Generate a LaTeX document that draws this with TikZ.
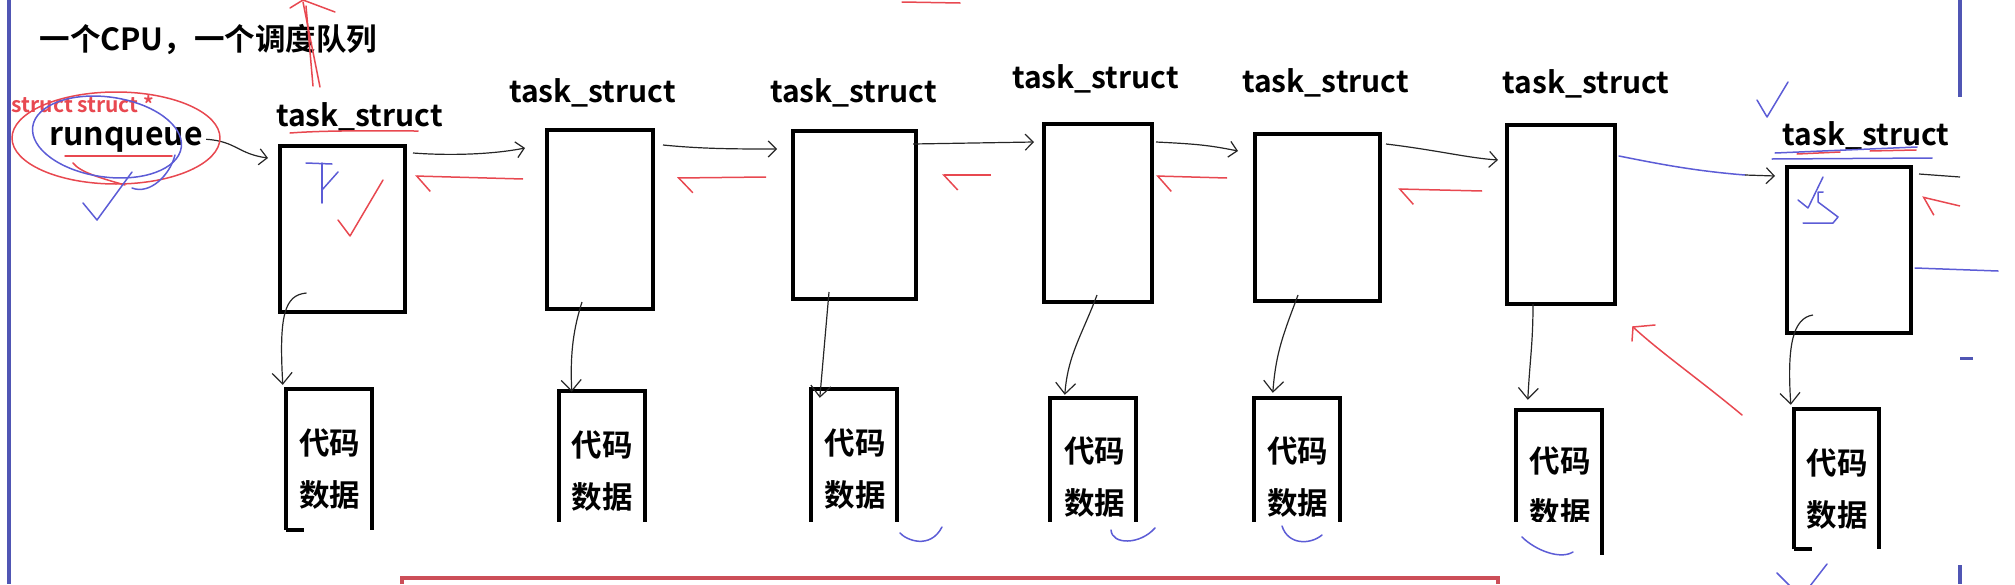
\documentclass[tikz,border=0pt]{standalone}
\usepackage{fontspec}
\setmainfont{Noto Sans CJK SC}[BoldFont={Noto Sans CJK SC Bold}]
\usetikzlibrary{positioning,arrows.meta,calc}

\definecolor{penred}{RGB}{232,72,80}
\definecolor{penblue}{RGB}{92,92,214}
\definecolor{frameblue}{RGB}{80,86,180}
\definecolor{boxred}{RGB}{204,78,88}

\begin{document}
\begin{tikzpicture}[x=1pt, y=-1pt, >={Straight Barb[length=8pt,width=16pt]},
  taskbox/.style={draw, line width=4pt, inner sep=0pt},
  tasklabel/.style={font=\bfseries\fontsize{30}{36}\selectfont, anchor=base},
  codebox/.style={inner sep=0pt},
  codetext/.style={font=\bfseries\fontsize{30.5}{52}\selectfont, align=center},
  link/.style={->, line width=1.2pt, black!85},
  down/.style={-{Straight Barb[length=11pt,width=20pt]}, line width=1.2pt, black!85},
  back/.style={-{Straight Barb[left,length=14pt,width=30pt]}, line width=1.5pt, penred},
  pen/.style={line width=1.5pt, line cap=round, line join=round}]
  \useasboundingbox (0,0) rectangle (2015,584);

  \node[font=\bfseries\fontsize{30.5}{36}\selectfont, anchor=base west] (title) at (36,50) {一个CPU，一个调度队列};
  \node[font=\bfseries\fontsize{21}{24}\selectfont, text=penred, anchor=base] (ptr) at (83,112) {struct struct *};
  \node[font=\bfseries\fontsize{32}{38}\selectfont, anchor=base] (rq) at (126,145) {runqueue};

  \foreach \n/\x/\y/\w/\h in {t1/342.5/229/125/166, t2/600/219.5/106/179, t3/854.5/215/123/168,
      t4/1098/213/108/178, t5/1317.5/217.5/125/167, t6/1561/214.5/108/179, t7/1849/250/124/166}
    \node[taskbox, minimum width=\w pt, minimum height=\h pt] (\n) at (\x,\y) {};
  \foreach \n/\x/\y in {1/359.5/126, 2/592.5/102, 3/853.5/102, 4/1095.5/88, 5/1325.5/92, 6/1586/93, 7/1866/145}
    \node[tasklabel] (l\n) at (\x,\y) {task\_struct};

  \foreach \n/\x/\y/\w/\h in {c1/329/459.5/86/141, c2/602/456.5/86/131, c3/854/455.5/86/133,
      c4/1093/460/86/124, c5/1297/460/86/124, c6/1559/482.5/86/145, c7/1836.5/479/85/140}
    \node[codebox, minimum width=\w pt, minimum height=\h pt] (\n) at (\x,\y) {};
  \foreach \n/\x/\y in {d1/329.5/469, d2/602/471, d3/855/469, d4/1094.5/477.5, d5/1297.5/477.5, d6/1560/487.5, d7/1837/489}
    \node[codetext] (\n) at (\x,\y) {代码\\数据};
  \foreach \n in {c1,c2,c3,c4,c5,c6,c7}
    \draw[line width=4pt] (\n.south west) -- (\n.north west) -- (\n.north east) -- (\n.south east);
  \draw[line width=4pt] (c1.south west) -- ++(18,0);
  \draw[line width=4pt] (c7.south west) -- ++(18,0);
  \fill[white] (385,522) rectangle (1596,576);

  \draw[link] (rq.east) .. controls +(30,2) and +(-30,-4) .. ($(t1.north west)+(-10,14)$);
  \draw[link] ($(t1.north east)+(6,9)$) .. controls +(40,3) and +(-30,6) .. ($(t2.north west)+(-20,20)$);
  \draw[link] ($(t2.north east)+(8,17)$) .. controls +(40,4) and +(-40,0) .. ($(t3.north west)+(-14,20)$);
  \draw[link] ($(t3.north east)+(-5,15)$) -- ($(t4.north west)+(-8,20)$);
  \draw[link] ($(t4.north east)+(2,20)$) .. controls +(40,2) and +(-30,-6) .. ($(t5.north west)+(-15,19)$);
  \draw[link] ($(t5.north east)+(4,12)$) .. controls +(50,6) and +(-30,-2) .. ($(t6.north west)+(-7,37)$);
  \draw[pen, penblue] ($(t6.north east)+(2,33)$) .. controls +(40,8) and +(-50,-4) .. ($(t7.north west)+(-40,10)$) coordinate (m67);
  \draw[link] (m67) -- ($(t7.north west)+(-10,11)$);
  \coordinate (rim) at (1960,177);
  \draw[line width=1.2pt, black!85] ($(t7.north east)+(6,9)$) -- (rim);

  \draw[back] ($(t2.north west)+(-22,51)$) -- ($(t1.north east)+(8,32)$);
  \draw[back] ($(t3.north west)+(-25,48)$) -- ($(t2.north east)+(22,50)$);
  \draw[back] ($(t4.north west)+(-51,53)$) -- ($(t3.north east)+(24,46)$);
  \draw[back] ($(t5.north west)+(-26,46)$) -- ($(t4.north east)+(2,54)$);
  \draw[back] ($(t6.north west)+(-23,68)$) -- ($(t5.north east)+(16,57)$);
  \draw[back] ($(rim)+(0,29)$) -- ($(t7.north east)+(9,32)$);

  \draw[down] ($(t1.south)+(-36,-21)$) .. controls +(-22,2) and +(-4,-70) .. ($(c1.north west)+(-3,-4)$);
  \draw[down] ($(t2.south)+(-18,-9)$) .. controls +(-8,25) and +(-2,-40) .. ($(c2.north west)+(13,1)$);
  \draw[down] ($(t3.south)+(-25.5,-9)$) -- ($(c3.north west)+(9,9)$);
  \draw[down] ($(t4.south)+(-1,-9)$) .. controls +(-15,40) and +(3,-40) .. ($(c4.north west)+(15,-3)$);
  \draw[down] ($(t5.south)+(-19.5,-8)$) .. controls +(-15,40) and +(3,-40) .. ($(c5.north west)+(19,-5)$);
  \draw[down] ($(t6.south)+(-28,-2)$) .. controls +(0,40) and +(2,-40) .. ($(c6.north west)+(12,-10)$);
  \draw[down] ($(t7.south)+(-36,-20)$) .. controls +(-20,3) and +(-4,-60) .. ($(c7.north west)+(-3,-4)$);

  \draw[pen, penred] (116,138) ellipse [x radius=104, y radius=46];
  \draw[pen, penred] (65,156) -- (172,156);
  \draw[pen, penred] (73,163) .. controls (80,172) and (100,178) .. (125,185);
  \draw[pen, penred] (290,133) .. controls (330,130) and (380,131) .. (418,131);
  \draw[pen, penred] (338,220) -- (350,236) -- (383,180);
  \draw[pen, penred] (320,87) -- (303,2);
  \draw[pen, penred] (313,86) -- (306,6);
  \draw[pen, penred] (290,8) -- (303,0) -- (335,12);
  \draw[pen, penred] (902,2) -- (960,3);
  \draw[pen, penred] (1742,415) .. controls (1700,380) and (1660,352) .. (1633,327);
  \draw[pen, penred] (1655,325) -- (1633,327) -- (1632,341);
  \draw[pen, penred] (1797,154) -- (1840,152);
  \draw[pen, penred] (1870,151) -- (1916,150);

  \draw[pen, penblue, rotate around={-8:(107,137)}] (107,137) ellipse [x radius=75, y radius=40];
  \draw[pen, penblue] (175,155) .. controls (170,175) and (150,195) .. (132,188);
  \draw[pen, penblue] (83,203) -- (97,220) -- (132,172);
  \draw[pen, penblue] (306,163) -- (332,164);
  \draw[pen, penblue] (322,163) -- (322,203);
  \draw[pen, penblue] (322,190) -- (338,172);
  \draw[pen, penblue] (1757,100) -- (1767,117) -- (1788,82);
  \draw[pen, penblue] (1775,153) -- (1917,147);
  \draw[pen, penblue] (1772,159) -- (1932,158);
  \draw[pen, penblue] (1798,200) -- (1808,208) -- (1823,177);
  \draw[pen, penblue] (1823,192) -- (1818,192) -- (1818,202) -- (1838,217) -- (1833,223) -- (1803,223);
  \draw[pen, penblue] (1915,268) -- (1998,271);
  \draw[pen, penblue] (900,533) .. controls (906,540) and (930,550) .. (942,527);
  \draw[pen, penblue] (1111,530) .. controls (1112,545) and (1140,545) .. (1155,528);
  \draw[pen, penblue] (1282,526) .. controls (1288,545) and (1310,545) .. (1322,535);
  \draw[pen, penblue] (1522,537) .. controls (1535,550) and (1560,560) .. (1573,552);
  \draw[pen, penblue] (1777,573) -- (1790,586);
  \draw[pen, penblue] (1810,586) -- (1827,564);

  \draw[frameblue, line width=3.5pt] (9,0) -- (9,584);
  \draw[frameblue, line width=3.5pt] (1960,0) -- (1960,97);
  \draw[frameblue, line width=3pt] (1960,358) -- (1973,358);
  \draw[frameblue, line width=3.5pt] (1960,565) -- (1960,584);
  \draw[boxred, line width=3.5pt] (402,584) -- (402,578) -- (1498,578) -- (1498,584);
\end{tikzpicture}
\end{document}
